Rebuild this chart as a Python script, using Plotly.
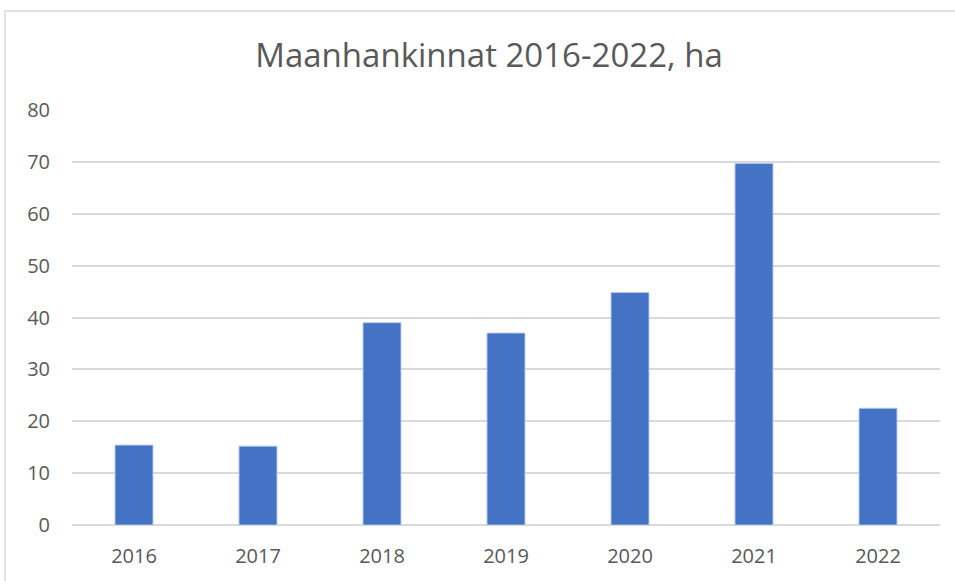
import plotly.graph_objects as go

years = ["2016", "2017", "2018", "2019", "2020", "2021", "2022"]
hectares = [15.4, 15.2, 39.0, 37.0, 44.8, 69.7, 22.5]
y_ticks = [0, 10, 20, 30, 40, 50, 60, 70, 80]

W, H = 955, 581
ml, mr, mt, mb = 72, 15, 110, 55.5
pw, ph = W - ml - mr, H - mt - mb

fig = go.Figure(go.Bar(
    x=years, y=hectares,
    marker=dict(color="#4472C4", line=dict(color="rgba(180,200,235,0.9)", width=1)),
))

fig.update_layout(
    width=W, height=H,
    margin=dict(l=ml, r=mr, t=mt, b=mb, pad=0),
    paper_bgcolor="white", plot_bgcolor="white",
    bargap=0.694,
    showlegend=False,
    title=dict(text="Maanhankinnat 2016-2022, ha", x=489 / W, xref="container", xanchor="center",
               y=1 - 55 / H, yref="container", yanchor="middle",
               font=dict(family="Open Sans", size=33, color="#595959")),
    font=dict(family="Open Sans", color="#595959"),
)
fig.update_xaxes(showline=False, ticks="", tickfont=dict(size=20, color="#595959"),
                 ticklabelstandoff=17, showgrid=False)
fig.update_yaxes(range=[0, 80], tickvals=y_ticks, showgrid=True, gridcolor="#d9d9d9", gridwidth=1.5,
                 zeroline=True, zerolinecolor="#d9d9d9", zerolinewidth=1.5,
                 ticks="", tickfont=dict(size=20, color="#595959"), ticklabelstandoff=21)

# outer chart border (partially cropped in reference)
fig.add_shape(type="rect", xref="paper", yref="paper",
              x0=(5 - ml) / pw, x1=(W + 20 - ml) / pw,
              y0=-(mb + 20) / ph, y1=(H - mb - 11) / ph,
              line=dict(color="#d9d9d9", width=1.5), fillcolor="rgba(0,0,0,0)", layer="below")

fig.write_html("out.html", config={"displayModeBar": False},
               post_script="document.body.style.margin='0';document.body.style.overflow='hidden';")
